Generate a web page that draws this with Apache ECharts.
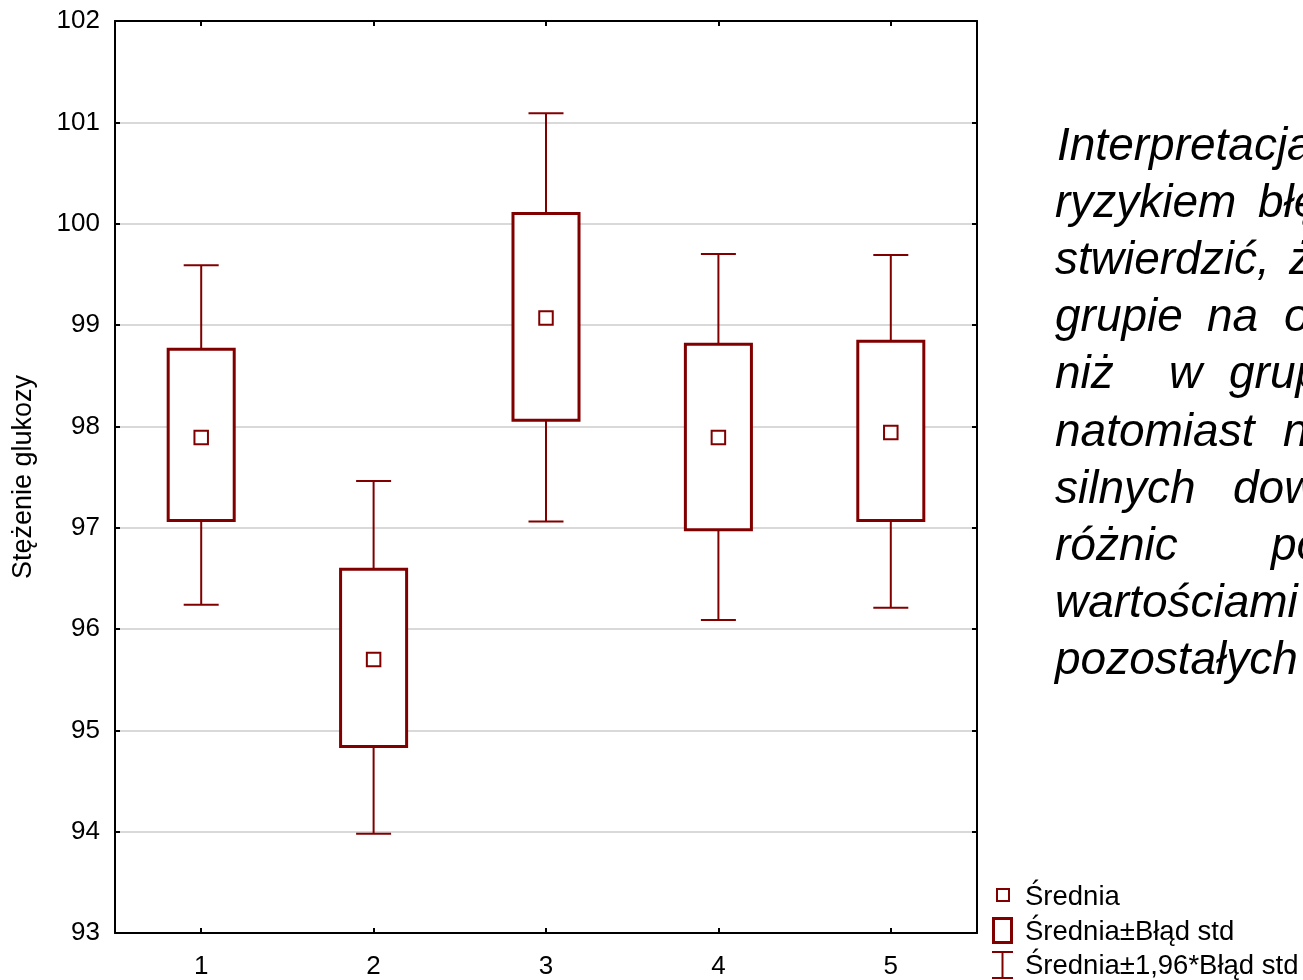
<!DOCTYPE html>
<html>
<head>
<meta charset="utf-8">
<script src="https://cdn.jsdelivr.net/npm/echarts@6/dist/echarts.min.js"></script>
<style>
  html, body { margin: 0; padding: 0; background: #fff; }
  #chart { width: 1303px; height: 980px; }
</style>
</head>
<body>
<div id="chart"></div>
<script>
// Glucose concentration per group: mean, ±standard error, ±1.96*standard error
const categories = ['1', '2', '3', '4', '5'];
const means  = [97.89, 95.70, 99.07, 97.89, 97.94];
const seLow  = [97.07, 94.84, 98.06, 96.98, 97.07];
const seHigh = [98.76, 96.59, 100.10, 98.81, 98.84];
const ciLow  = [96.24, 93.98, 97.06, 96.09, 96.21];
const ciHigh = [99.59, 97.46, 101.09, 99.70, 99.69];

const yMin = 93, yMax = 102, yStep = 1;
const yAxisName = 'Stężenie glukozy';
const legendLabels = ['Średnia', 'Średnia±Błąd std', 'Średnia±1,96*Błąd std'];

// Commentary block, one entry per line: [word, x] pairs (justified layout)
const noteLines = [
  [['Interpretacja:', 1057]],
  [['ryzykiem', 1055], ['błędu', 1258]],
  [['stwierdzić,', 1055], ['że', 1289]],
  [['grupie', 1055], ['na', 1207], ['ogół', 1284]],
  [['niż', 1055], ['w', 1169], ['grupie', 1229]],
  [['natomiast', 1055], ['nie', 1283]],
  [['silnych', 1055], ['dowodów', 1233]],
  [['różnic', 1055], ['pomiędzy', 1271]],
  [['wartościami', 1055]],
  [['pozostałych', 1055]]
];
const noteBaselines = [163, 220, 277, 334, 391, 449, 506, 563, 620, 677];

const RED = '#800000';
const FONT = '"Liberation Sans", Arial, sans-serif';

const boxData = categories.map((c, i) => [i, ciLow[i], seLow[i], means[i], seHigh[i], ciHigh[i]]);

function renderBox(params, api) {
  const i = api.value(0);
  const pLowW  = api.coord([i, api.value(1)]);
  const pLowB  = api.coord([i, api.value(2)]);
  const pMean  = api.coord([i, api.value(3)]);
  const pHighB = api.coord([i, api.value(4)]);
  const pHighW = api.coord([i, api.value(5)]);
  const band = api.size([1, 0])[0];
  const boxW = band * 0.383;
  const capW = band * 0.203;
  const cx = pMean[0];
  const line = (x1, y1, x2, y2, w) => ({
    type: 'line',
    shape: { x1, y1, x2, y2 },
    style: { stroke: RED, lineWidth: w, fill: null }
  });
  return {
    type: 'group',
    children: [
      line(cx, pHighW[1], cx, pHighB[1], 2),
      line(cx, pLowB[1], cx, pLowW[1], 2),
      line(cx - capW / 2, pHighW[1], cx + capW / 2, pHighW[1], 2),
      line(cx - capW / 2, pLowW[1], cx + capW / 2, pLowW[1], 2),
      {
        type: 'rect',
        shape: { x: cx - boxW / 2, y: pHighB[1], width: boxW, height: pLowB[1] - pHighB[1] },
        style: { fill: '#fff', stroke: RED, lineWidth: 3 }
      },
      {
        type: 'rect',
        shape: { x: cx - 6.75, y: pMean[1] - 6.75, width: 13.5, height: 13.5 },
        style: { fill: '#fff', stroke: RED, lineWidth: 2 }
      }
    ]
  };
}

// Legend drawn as graphic elements
const legendX = 1025;
const legendY = [897, 932, 966];
const graphics = [
  { type: 'rect', shape: { x: 997, y: 889, width: 12, height: 12 }, style: { fill: '#fff', stroke: RED, lineWidth: 2 } },
  { type: 'rect', shape: { x: 993.5, y: 918.5, width: 18, height: 24 }, style: { fill: '#fff', stroke: RED, lineWidth: 3 } },
  { type: 'line', shape: { x1: 992, y1: 952, x2: 1013, y2: 952 }, style: { stroke: RED, lineWidth: 2 } },
  { type: 'line', shape: { x1: 1002.5, y1: 952, x2: 1002.5, y2: 978 }, style: { stroke: RED, lineWidth: 2 } },
  { type: 'line', shape: { x1: 992, y1: 978, x2: 1013, y2: 978 }, style: { stroke: RED, lineWidth: 2 } }
];
legendLabels.forEach((t, k) => {
  graphics.push({
    type: 'text',
    style: { text: t, x: legendX, y: legendY[k], fill: '#000', fontSize: 27.5, fontFamily: FONT, verticalAlign: 'middle', align: 'left' }
  });
});
noteLines.forEach((words, k) => {
  words.forEach(([w, x]) => {
    graphics.push({
      type: 'text',
      style: {
        text: w, x: x, y: noteBaselines[k] - 16, fill: '#000',
        fontSize: 46, fontStyle: 'italic', fontFamily: FONT,
        verticalAlign: 'middle', align: 'left'
      }
    });
  });
});

const axisLine = { show: true, onZero: false, lineStyle: { color: '#000', width: 2 } };
const axisTick = { show: true, inside: true, length: 5, lineStyle: { color: '#000', width: 2 } };

const chart = echarts.init(document.getElementById('chart'));
chart.setOption({
  animation: false,
  backgroundColor: '#fff',
  grid: { left: 115, right: 326, top: 21, bottom: 47, containLabel: false, outerBoundsMode: 'none' },
  xAxis: [
    {
      type: 'category', data: categories, position: 'bottom',
      axisLine, axisTick: Object.assign({ alignWithLabel: true }, axisTick),
      axisLabel: { color: '#000', fontSize: 26, fontFamily: FONT, margin: 21 },
      splitLine: { show: false }
    },
    {
      type: 'category', data: categories, position: 'top',
      axisLine, axisTick: Object.assign({ alignWithLabel: true }, axisTick),
      axisLabel: { show: false }, splitLine: { show: false }
    }
  ],
  yAxis: [
    {
      type: 'value', min: yMin, max: yMax, interval: yStep, position: 'left',
      name: yAxisName, nameLocation: 'middle', nameGap: 78,
      nameTextStyle: { color: '#000', fontSize: 27, fontFamily: FONT },
      axisLine, axisTick,
      axisLabel: { color: '#000', fontSize: 26, fontFamily: FONT, margin: 15, showMinLabel: true, showMaxLabel: true },
      splitLine: { show: true, lineStyle: { color: '#d9d9d9', width: 2 } }
    },
    {
      type: 'value', min: yMin, max: yMax, interval: yStep, position: 'right',
      axisLine, axisTick, axisLabel: { show: false }, splitLine: { show: false }
    }
  ],
  series: [
    {
      type: 'custom',
      renderItem: renderBox,
      xAxisIndex: 0, yAxisIndex: 0,
      encode: { x: 0, y: [1, 2, 3, 4, 5] },
      data: boxData,
      z: 5
    }
  ],
  graphic: graphics
});
</script>
</body>
</html>
